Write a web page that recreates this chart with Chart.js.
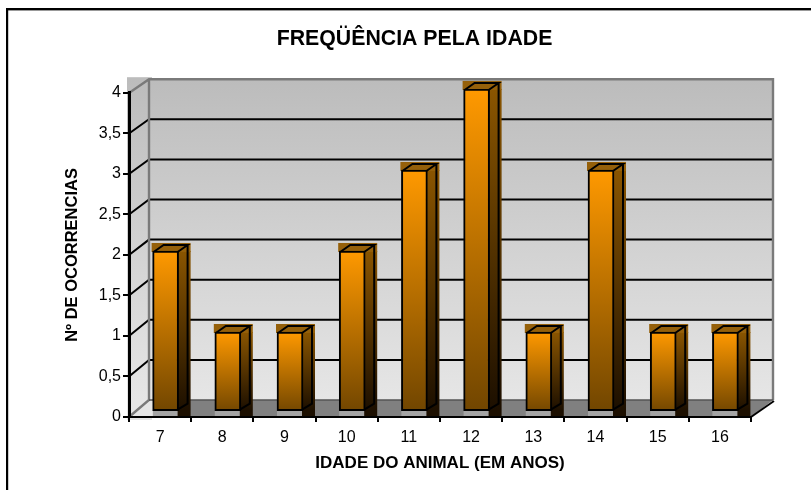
<!DOCTYPE html>
<html>
<head>
<meta charset="utf-8">
<style>html,body{margin:0;padding:0;background:#fff}canvas{display:block}</style>
<script src="https://cdn.jsdelivr.net/npm/chart.js@4/dist/chart.umd.min.js"></script>
</head>
<body>
<canvas id="c" width="811" height="490"></canvas>
<script>
const chartTitle = "FREQÜÊNCIA PELA IDADE";
const xTitle = "IDADE DO ANIMAL (EM ANOS)";
const yTitle = "Nº DE OCORRENCIAS";
const categories = ["7","8","9","10","11","12","13","14","15","16"];
const occurrences = [2,1,1,2,3,4,1,3,1,1];
const yTickLabels = ["0","0,5","1","1,5","2","2,5","3","3,5","4"];

const FONT = '"Liberation Sans", Arial, sans-serif';
const BACK_DX = 20, FLOOR_BACK_Y = 400, BACK_K = 0.99;
const BAR_DX = 5.5, BAR_DY = -4, SIDE_W = 12, CAP_H = 8;

const scene3d = {
  id: 'scene3d',
  afterLayout(chart){
    chart.titleBlock.left += 39;
    chart.titleBlock.right += 39;
  },
  beforeDraw(chart){
    const c = chart.ctx, {x, y} = chart.scales;
    const L = x.left, R = x.right, F = y.getPixelForValue(0);
    const back = v => FLOOR_BACK_Y - (F - y.getPixelForValue(v)) * BACK_K;
    const BL = L + BACK_DX, BR = R + 22, T = back(4);
    c.save();
    c.fillStyle = '#fff'; c.fillRect(0,0,chart.width,chart.height);
    c.fillStyle = '#000';
    c.fillRect(6,8,chart.width-6,2.4);
    c.fillRect(6,8,2.2,chart.height-8);
    // walls
    const g = c.createLinearGradient(0,T,0,FLOOR_BACK_Y);
    g.addColorStop(0,'#bcbcbc'); g.addColorStop(1,'#e6e6e6');
    c.fillStyle = g;
    c.fillRect(BL,T,BR-BL,FLOOR_BACK_Y-T);
    c.fillRect(L-2,T-2,BL-L+5,F-T+5);
    // floor
    c.fillStyle = '#808080';
    c.beginPath();
    c.moveTo(L+25,FLOOR_BACK_Y); c.lineTo(BR,FLOOR_BACK_Y); c.lineTo(R,F); c.lineTo(L+25,F);
    c.closePath(); c.fill();
    // gridlines
    c.lineCap = 'butt';
    c.strokeStyle = '#000'; c.lineWidth = 2;
    y.ticks.forEach(t => {
      const v = t.value, py = y.getPixelForValue(v), by = back(v);
      if (v > 0 && v < 4) {
        c.beginPath(); c.moveTo(L,py); c.lineTo(BL,by); c.lineTo(BR,by); c.stroke();
      }
    });
    // wall frame
    c.strokeStyle = '#7a7a7a'; c.lineWidth = 2.4;
    c.beginPath();
    c.moveTo(L,y.getPixelForValue(4)); c.lineTo(BL,T); c.lineTo(BR,T); c.lineTo(BR,FLOOR_BACK_Y);
    c.moveTo(BL,T); c.lineTo(BL,FLOOR_BACK_Y); c.lineTo(L,F);
    c.stroke();
    c.strokeStyle = '#555'; c.lineWidth = 1.6;
    c.beginPath(); c.moveTo(BL,FLOOR_BACK_Y); c.lineTo(BR,FLOOR_BACK_Y); c.stroke();
    c.strokeStyle = '#000'; c.lineWidth = 2;
    c.beginPath(); c.moveTo(R,F); c.lineTo(BR+1,FLOOR_BACK_Y+1); c.stroke();
    c.restore();
  },
  beforeDatasetDraw(chart, args){
    const c = chart.ctx, F = chart.scales.y.getPixelForValue(0);
    c.save();
    c.translate(BAR_DX, BAR_DY);
    const meta = chart.getDatasetMeta(args.index);
    meta.data.forEach(b => {
      const l = b.x - b.width/2, r = b.x + b.width/2, t = b.y, bt = b.base;
      // light floor strip under the bar
      c.fillStyle = '#a4a4a4';
      c.fillRect(l, bt, b.width, F - BAR_DY - bt - 1);
      // side block
      const g = c.createLinearGradient(0,t,0,bt);
      g.addColorStop(0,'#8a5500'); g.addColorStop(1,'#1c0f00');
      c.fillStyle = g;
      c.fillRect(r-1, t, SIDE_W+1, F - BAR_DY - t - 1);
      // cap block
      c.fillStyle = '#95600a';
      c.fillRect(l-1, t-CAP_H, b.width+SIDE_W+1, CAP_H+1);
      // outlines
      c.strokeStyle = '#000'; c.lineWidth = 2;
      c.beginPath();
      c.moveTo(l+1,t+1); c.lineTo(l+11,t-CAP_H+2); c.lineTo(r+9,t-CAP_H+2); c.lineTo(r-1,t+1);
      c.moveTo(r+9,t-CAP_H+2); c.lineTo(r+9,bt-7); c.lineTo(r-1,bt-1);
      c.stroke();
    });
  },
  afterDatasetDraw(chart){
    chart.ctx.restore();
  }
};

new Chart(document.getElementById('c'), {
  type: 'bar',
  data: {
    labels: categories,
    datasets: [{
      data: occurrences,
      base: 0.03,
      barThickness: 26,
      borderColor: '#000',
      borderWidth: 2,
      borderSkipped: false,
      backgroundColor(ctx){
        const ch = ctx.chart, y = ch.scales.y;
        if (!y || !ctx.parsed) return '#ff9900';
        const a = y.getPixelForValue(ctx.parsed.y), b = y.getPixelForValue(0);
        if (!isFinite(a) || !isFinite(b)) return '#ff9900';
        const g = ch.ctx.createLinearGradient(0, a, 0, b);
        g.addColorStop(0,'#ff9900'); g.addColorStop(1,'#704500');
        return g;
      }
    }]
  },
  options: {
    responsive: false,
    animation: false,
    events: [],
    layout: { autoPadding: false, padding: { left: 0, right: 60, top: 26, bottom: 0 } },
    plugins: {
      legend: { display: false },
      tooltip: { enabled: false },
      title: {
        display: true, text: chartTitle, color: '#000',
        font: { family: FONT, size: 21.3, weight: 'bold' },
        padding: { top: 0, bottom: 41.4 }
      }
    },
    scales: {
      x: {
        afterFit(s){ s.height = 73; },
        grid: { drawOnChartArea: false, color: '#000', lineWidth: 2, tickLength: 5 },
        border: { color: '#000', width: 2 },
        ticks: { color: '#000', font: { family: FONT, size: 16 }, padding: 6, maxRotation: 0, autoSkip: false },
        title: { display: true, text: xTitle, color: '#000', font: { family: FONT, size: 17, weight: 'bold' }, padding: { top: 0, bottom: 16 } }
      },
      y: {
        min: 0, max: 4,
        afterFit(s){ s.width = 129; },
        grid: { drawOnChartArea: false, color: '#000', lineWidth: 2, tickLength: 6 },
        border: { color: '#000', width: 3 },
        ticks: { stepSize: 0.5, color: '#000', font: { family: FONT, size: 16 }, padding: 2,
          callback(v, i){ return yTickLabels[i]; } },
        title: { display: true, text: yTitle, color: '#000', font: { family: FONT, size: 16.5, weight: 'bold' }, padding: { top: 63, bottom: 63 } }
      }
    }
  },
  plugins: [scene3d]
});
</script>
</body>
</html>
